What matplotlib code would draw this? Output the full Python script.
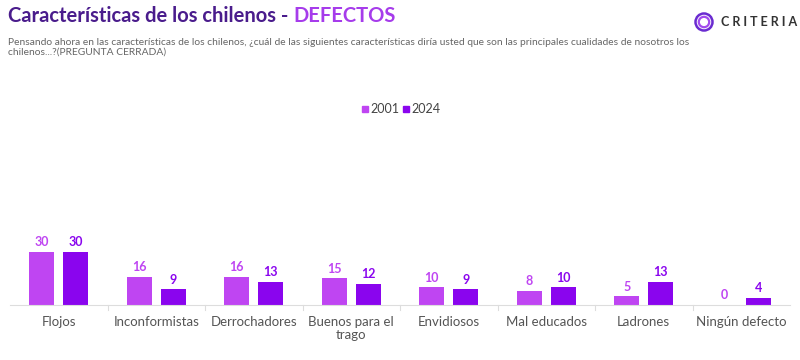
import matplotlib
matplotlib.use("Agg")
import matplotlib.pyplot as plt
from matplotlib.patches import Circle, Rectangle
from matplotlib.transforms import IdentityTransform
import numpy as np

categories = ["Flojos", "Inconformistas", "Derrochadores", "Buenos para el\ntrago",
              "Envidiosos", "Mal educados", "Ladrones", "Ningún defecto"]
v2001 = [30, 16, 16, 15, 10, 8, 5, 0]
v2024 = [30, 9, 13, 12, 9, 10, 13, 4]
series = ["2001", "2024"]
c2001 = "#BF45F2"
c2024 = "#8A05EE"

plt.rcParams['font.family'] = ['Lato', 'DejaVu Sans']

fig = plt.figure(figsize=(8, 3.6), dpi=100)
ax = fig.add_axes([0.0125, 55/360, 0.975, 177/360])
x = np.arange(len(categories))
w = 0.256
off = 0.174
ax.bar(x - off, v2001, w, color=c2001)
ax.bar(x + off, v2024, w, color=c2024)
for xi, a, b in zip(x, v2001, v2024):
    ax.text(xi - off, a + 2, str(a), ha='center', va='bottom', color=c2001,
            fontsize=9, fontweight='bold')
    ax.text(xi + off, b + 2, str(b), ha='center', va='bottom', color=c2024,
            fontsize=9, fontweight='bold')
ax.set_xlim(-0.5, len(categories) - 0.5)
ax.set_ylim(0, 100)
ax.set_yticks([])
for s in ['top', 'right', 'left']:
    ax.spines[s].set_visible(False)
ax.spines['bottom'].set_color('#dddddd')
ax.set_xticks(x)
ax.set_xticklabels(categories, fontsize=9.5, color='#555555', linespacing=1.1)
ax.tick_params(axis='x', length=0, pad=8)
for b in np.arange(0.5, len(categories) - 0.5, 1):
    ax.plot([b, b], [0, -3], color='#dddddd', lw=0.8, clip_on=False)

# legend
fig.patches.append(Rectangle((362/800, 1 - 112/360), 6/800, 6/360, transform=fig.transFigure, color=c2001))
fig.text(370/800, 1 - 109/360, "2001", fontsize=9, color='#444444', va='center')
fig.patches.append(Rectangle((403/800, 1 - 112/360), 6/800, 6/360, transform=fig.transFigure, color=c2024))
fig.text(411/800, 1 - 109/360, "2024", fontsize=9, color='#444444', va='center')

# title
t = fig.text(8/800, 1 - 16/360, "Características de los chilenos - ", fontsize=14.5,
             fontweight='bold', color='#4A1C8C', va='center')
fig.canvas.draw()
bb = t.get_window_extent()
fig.text(bb.x1 / 800, 1 - 16/360, "DEFECTOS", fontsize=14.5, fontweight='bold',
         color='#A63CEB', va='center')
fig.text(8/800, 1 - 47/360,
         "Pensando ahora en las características de los chilenos, ¿cuál de las siguientes características diría usted que son las principales cualidades de nosotros los\nchilenos...?(PREGUNTA CERRADA)",
         fontsize=7.4, color='#666666', va='center', linespacing=1.05)

# logo
for r, c, lw in [(8.5, '#6A2BD0', 1.8), (5.2, '#A24AEE', 1.6)]:
    fig.patches.append(Circle((704, 338), r, transform=IdentityTransform(),
                              fill=False, ec=c, lw=lw))
fig.text(721/800, 1 - 22/360, "C R I T E R I A", fontsize=9, color='#333333',
         va='center', fontweight='bold')

fig.savefig("out.png", dpi=100)
